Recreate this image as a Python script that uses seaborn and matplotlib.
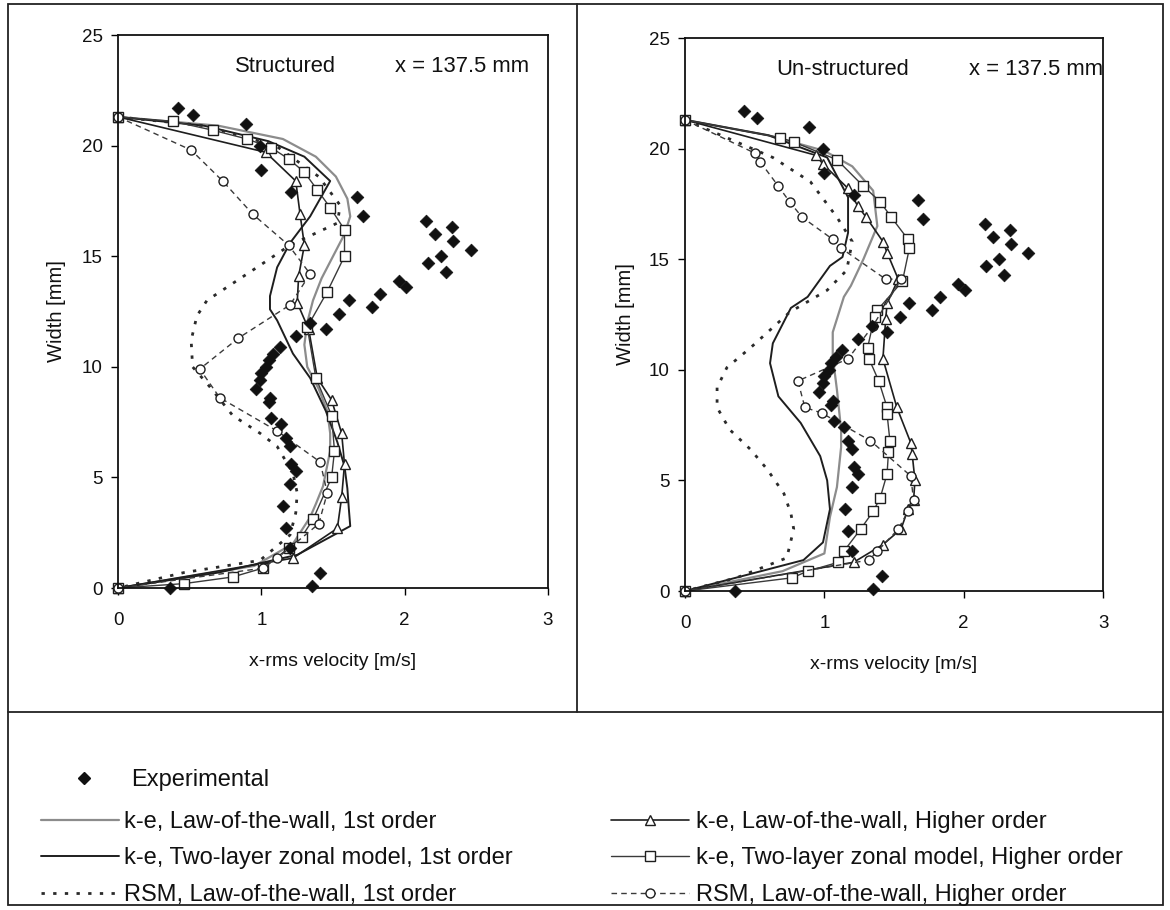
import matplotlib
matplotlib.use("Agg")
import matplotlib.pyplot as plt
import seaborn as sns
import pandas as pd
from matplotlib.lines import Line2D
from matplotlib.patches import Rectangle
from matplotlib.legend_handler import HandlerLine2D

sns.set_theme(style="white")
plt.rcParams['font.family'] = ['Liberation Sans', 'DejaVu Sans']

# ---------------- data ----------------
exp_x = [0.42, 0.52, 0.89, 0.99, 1.00, 1.21, 1.67, 1.71, 2.15, 2.33, 2.21, 2.34, 2.46, 2.25, 2.16,
         2.29, 1.96, 2.01, 1.83, 1.61, 1.77, 1.54, 1.34, 1.45, 1.24, 1.13, 1.08, 1.05, 1.03, 1.00,
         0.99, 0.96, 1.06, 1.05, 1.07, 1.14, 1.17, 1.20, 1.21, 1.24, 1.20, 1.15, 1.17, 1.20, 1.41,
         1.35, 0.36]
exp_y = [21.7, 21.4, 21.0, 20.0, 18.9, 17.9, 17.7, 16.8, 16.6, 16.3, 16.0, 15.7, 15.3, 15.0, 14.7,
         14.3, 13.9, 13.6, 13.3, 13.0, 12.7, 12.4, 12.0, 11.7, 11.4, 10.9, 10.6, 10.3, 10.0, 9.7,
         9.4, 9.0, 8.6, 8.4, 7.7, 7.4, 6.8, 6.4, 5.6, 5.3, 4.7, 3.7, 2.7, 1.8, 0.7,
         0.1, 0.0]

# Structured mesh
s_lw1_x = [0, 0.7, 1.15, 1.38, 1.52, 1.60, 1.62, 1.58, 1.50, 1.42, 1.36, 1.32, 1.30, 1.32, 1.40, 1.46, 1.48, 1.48, 1.43, 1.38, 1.34, 1.22, 0.95, 0]
s_lw1_y = [21.3, 20.9, 20.3, 19.5, 18.6, 17.6, 16.8, 16.0, 15.0, 14.0, 13.0, 12.0, 11.0, 10.0, 9.0, 8.0, 7.0, 6.2, 4.6, 3.8, 3.2, 2.0, 1.0, 0]
s_tl1_x = [0, 0.6, 1.05, 1.30, 1.48, 1.34, 1.20, 1.11, 1.06, 1.06, 1.11, 1.22, 1.34, 1.45, 1.53, 1.58, 1.60, 1.61, 1.62, 1.25, 0.7, 0]
s_tl1_y = [21.3, 20.9, 20.2, 19.5, 18.4, 16.8, 15.6, 14.5, 13.2, 12.6, 12.1, 10.6, 9.5, 8.0, 6.6, 5.5, 4.5, 3.6, 2.8, 1.5, 0.7, 0]
s_rsm1_x = [0, 0.6, 1.1, 1.4, 1.55, 1.53, 1.20, 0.97, 0.76, 0.62, 0.55, 0.51, 0.52, 0.64, 0.80, 0.99, 1.11, 1.22, 1.25, 1.24, 1.20, 1.11, 0.99, 0.46, 0]
s_rsm1_y = [21.3, 20.9, 20.0, 18.6, 17.3, 16.5, 15.5, 14.5, 13.6, 13.0, 12.3, 11.2, 10.0, 9.1, 7.8, 7.0, 6.4, 5.2, 4.3, 3.4, 2.4, 1.9, 1.25, 0.7, 0]
s_lwh_x = [0, 1.03, 1.24, 1.27, 1.30, 1.26, 1.25, 1.33, 1.39, 1.49, 1.56, 1.58, 1.56, 1.53, 1.22, 0]
s_lwh_y = [21.3, 19.7, 18.4, 16.9, 15.5, 14.1, 12.9, 11.7, 9.5, 8.5, 7.0, 5.6, 4.1, 2.7, 1.35, 0]
s_tlh_x = [0, 0.38, 0.66, 0.90, 1.07, 1.19, 1.30, 1.39, 1.48, 1.58, 1.58, 1.46, 1.32, 1.38, 1.49, 1.51, 1.49, 1.36, 1.28, 1.19, 1.01, 0.80, 0.46, 0]
s_tlh_y = [21.3, 21.1, 20.7, 20.3, 19.9, 19.4, 18.8, 18.0, 17.2, 16.2, 15.0, 13.4, 11.8, 9.5, 7.8, 6.2, 5.0, 3.1, 2.3, 1.8, 0.9, 0.5, 0.2, 0]
s_rsmh_x = [0, 0.51, 0.73, 0.94, 1.19, 1.34, 1.20, 0.84, 0.57, 0.71, 1.11, 1.41, 1.46, 1.40, 1.11, 1.01, 0]
s_rsmh_y = [21.3, 19.8, 18.4, 16.9, 15.5, 14.2, 12.8, 11.3, 9.9, 8.6, 7.1, 5.7, 4.3, 2.9, 1.35, 0.9, 0]

# Un-structured mesh
u_lw1_x = [0, 0.6, 1.0, 1.2, 1.35, 1.38, 1.28, 1.19, 1.14, 1.06, 1.06, 1.09, 1.12, 1.12, 1.09, 1.04, 1.0, 0.7, 0]
u_lw1_y = [21.3, 20.6, 19.9, 19.2, 18.1, 16.5, 15.0, 13.8, 13.3, 11.7, 10.6, 9.1, 7.3, 6.5, 4.7, 3.35, 1.7, 0.9, 0]
u_tl1_x = [0, 0.6, 1.02, 1.17, 1.17, 1.13, 1.04, 0.88, 0.76, 0.63, 0.61, 0.67, 0.83, 0.97, 1.02, 1.04, 0.99, 0.85, 0]
u_tl1_y = [21.3, 20.6, 19.6, 17.8, 16.2, 15.1, 14.7, 13.3, 12.8, 11.2, 10.3, 8.8, 7.6, 6.1, 5.0, 3.7, 2.2, 1.4, 0]
u_rsm1_x = [0, 0.63, 0.90, 1.09, 1.20, 1.16, 1.02, 0.75, 0.47, 0.30, 0.23, 0.23, 0.32, 0.47, 0.59, 0.71, 0.76, 0.78, 0.73, 0.37, 0]
u_rsm1_y = [21.3, 19.6, 18.5, 16.9, 15.8, 14.5, 13.6, 12.6, 11.0, 10.1, 9.2, 8.3, 7.3, 6.4, 5.5, 4.4, 3.5, 2.8, 1.5, 0.6, 0]
u_lwh_x = [0, 0.94, 0.99, 1.17, 1.24, 1.30, 1.42, 1.45, 1.53, 1.45, 1.44, 1.42, 1.52, 1.62, 1.63, 1.65, 1.64, 1.60, 1.55, 1.42, 1.21, 0]
u_lwh_y = [21.3, 19.7, 19.3, 18.2, 17.4, 16.9, 15.8, 15.3, 14.1, 13.0, 12.3, 10.5, 8.3, 6.7, 6.2, 5.0, 4.1, 3.7, 2.8, 2.1, 1.3, 0]
u_tlh_x = [0, 0.68, 0.78, 1.09, 1.28, 1.40, 1.48, 1.60, 1.61, 1.56, 1.38, 1.36, 1.31, 1.32, 1.39, 1.45, 1.45, 1.47, 1.46, 1.45, 1.40, 1.35, 1.26, 1.14, 1.10, 0.88, 0.77, 0]
u_tlh_y = [21.3, 20.5, 20.3, 19.5, 18.3, 17.6, 16.9, 15.9, 15.5, 14.0, 12.7, 12.4, 11.0, 10.5, 9.5, 8.3, 8.0, 6.8, 6.3, 5.3, 4.2, 3.6, 2.8, 1.8, 1.3, 0.9, 0.6, 0]
u_rsmh_x = [0, 0.50, 0.54, 0.67, 0.75, 0.84, 1.06, 1.12, 1.44, 1.55, 1.35, 1.17, 0.81, 0.86, 0.98, 1.33, 1.62, 1.64, 1.60, 1.53, 1.38, 1.32, 0]
u_rsmh_y = [21.3, 19.8, 19.4, 18.3, 17.6, 16.9, 15.9, 15.5, 14.1, 14.1, 12.0, 10.5, 9.5, 8.3, 8.05, 6.8, 5.2, 4.1, 3.6, 2.8, 1.8, 1.4, 0]

x_ticks = [0, 1, 2, 3]
y_ticks = [0, 5, 10, 15, 20, 25]
panel_titles = ["Structured", "Un-structured"]
position_label = "x = 137.5 mm"
x_label = "x-rms velocity [m/s]"
y_label = "Width [mm]"
exp_label = "Experimental"
series_labels = ["k-e, Law-of-the-wall, 1st order",
                 "k-e, Two-layer zonal model, 1st order",
                 "RSM, Law-of-the-wall, 1st order",
                 "k-e, Law-of-the-wall, Higher order",
                 "k-e, Two-layer zonal model, Higher order",
                 "RSM, Law-of-the-wall, Higher order"]

# ---------------- styles ----------------
styles = [
    dict(color="#8c8c8c", lw=1.6, ls="-", marker=None),
    dict(color="#1e1e1e", lw=1.4, ls="-", marker=None),
    dict(color="#2a2a2a", lw=2.0, ls=(0, (1.2, 3.0)), marker=None),
    dict(color="#1e1e1e", lw=1.2, ls="-", marker="^"),
    dict(color="#3a3a3a", lw=1.0, ls="-", marker="s"),
    dict(color="#3a3a3a", lw=1.0, ls=(0, (4, 3)), marker="o"),
]

panels = [
    [(s_lw1_x, s_lw1_y), (s_tl1_x, s_tl1_y), (s_rsm1_x, s_rsm1_y),
     (s_lwh_x, s_lwh_y), (s_tlh_x, s_tlh_y), (s_rsmh_x, s_rsmh_y)],
    [(u_lw1_x, u_lw1_y), (u_tl1_x, u_tl1_y), (u_rsm1_x, u_rsm1_y),
     (u_lwh_x, u_lwh_y), (u_tlh_x, u_tlh_y), (u_rsmh_x, u_rsmh_y)],
]

fig = plt.figure(figsize=(11.7, 9.1), dpi=100)
ax_rects = [[0.1009, 0.3538, 0.3675, 0.6077], [0.5855, 0.3505, 0.3573, 0.6077]]
title_x = [1.17, 1.13]
pos_x = [2.40, 2.52]

for k, rect in enumerate(ax_rects):
    ax = fig.add_axes(rect)
    for (xs, ys), st in zip(panels[k], styles):
        df = pd.DataFrame({"x": xs, "y": ys})
        kw = dict(color=st["color"], linewidth=st["lw"], linestyle=st["ls"])
        if st["marker"]:
            kw.update(marker=st["marker"], markersize=6.5, markerfacecolor="white",
                      markeredgecolor="#1e1e1e", markeredgewidth=1.0)
        sns.lineplot(data=df, x="x", y="y", sort=False, estimator=None, ax=ax,
                     legend=False, clip_on=False, **kw)
    dfe = pd.DataFrame({"x": exp_x, "y": exp_y})
    sns.scatterplot(data=dfe, x="x", y="y", ax=ax, marker="D", s=42, color="#111111",
                    edgecolor="#111111", linewidth=0.5, legend=False, clip_on=False, zorder=5)
    ax.set_xlim(0, 3)
    ax.set_ylim(0, 25)
    ax.set_xticks(x_ticks)
    ax.set_yticks(y_ticks)
    ax.tick_params(axis="both", direction="out", length=5, width=1.0, color="black",
                   labelsize=13.5, labelcolor="#111111", left=True, bottom=True)
    ax.tick_params(axis="y", pad=6)
    ax.tick_params(axis="x", pad=12)
    for sp in ax.spines.values():
        sp.set_color("#111111")
        sp.set_linewidth(1.3)
    ax.set_xlabel(x_label, fontsize=14, color="#111111")
    ax.set_ylabel(y_label, fontsize=14.5, color="#111111")
    ax.xaxis.set_label_coords(0.5, -0.118)
    ax.yaxis.set_label_coords(-0.12, 0.5)
    ax.text(title_x[k], 23.6, panel_titles[k], ha="center", va="center", fontsize=15.8, color="#111111")
    ax.text(pos_x[k], 23.6, position_label, ha="center", va="center", fontsize=15.8, color="#111111")
    ax.set_facecolor("white")

# frame decorations
fig.add_artist(Rectangle((0.007, 0.006), 0.987, 0.99, transform=fig.transFigure,
                         fill=False, edgecolor="#222222", linewidth=1.3))
fig.add_artist(Line2D([0.007, 0.994], [0.2176, 0.2176], transform=fig.transFigure,
                      color="#222222", linewidth=1.3))
fig.add_artist(Line2D([0.4932, 0.4932], [0.2176, 0.996], transform=fig.transFigure,
                      color="#222222", linewidth=1.3))

# legends
LEG_FS = 17
exp_handle = Line2D([], [], linestyle="none", marker="D", markersize=6.5,
                    markerfacecolor="#111111", markeredgecolor="#111111")
fig.legend([exp_handle], [exp_label], loc="upper left", bbox_to_anchor=(0.064, 0.155),
           frameon=False, fontsize=LEG_FS, handlelength=0.8, handletextpad=1.6,
           borderpad=0, borderaxespad=0, labelcolor="#111111")

handles = []
for st in styles:
    h = Line2D([], [], color=st["color"], linewidth=st["lw"], linestyle=st["ls"],
               marker=st["marker"] if st["marker"] else None, markersize=6.5,
               markerfacecolor="white", markeredgecolor="#1e1e1e", markeredgewidth=1.0)
    handles.append(h)

hmap = {Line2D: HandlerLine2D(marker_pad=0, numpoints=1)}
fig.legend(handles[:3], series_labels[:3], loc="upper left", bbox_to_anchor=(0.035, 0.109),
           frameon=False, fontsize=LEG_FS, handlelength=3.3, handletextpad=0.2,
           labelspacing=0.62, borderpad=0, borderaxespad=0, labelcolor="#111111",
           handler_map=hmap)
fig.legend(handles[3:], series_labels[3:], loc="upper left", bbox_to_anchor=(0.522, 0.109),
           frameon=False, fontsize=LEG_FS, handlelength=3.3, handletextpad=0.3,
           labelspacing=0.62, borderpad=0, borderaxespad=0, labelcolor="#111111",
           handler_map=hmap)

fig.savefig("out.png", dpi=100, facecolor="white")
